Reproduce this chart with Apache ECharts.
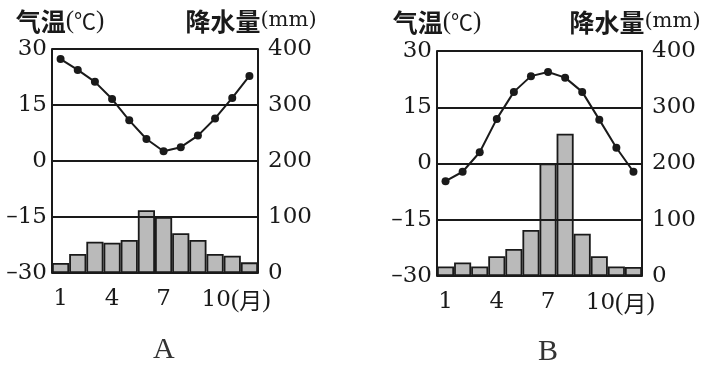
<!DOCTYPE html>
<html><head><meta charset="utf-8">
<script src="https://cdn.jsdelivr.net/npm/echarts@6/dist/echarts.min.js"></script>
<style>html,body{margin:0;padding:0;background:#fff}#c{width:715px;height:368px}</style>
</head><body><div id="c"></div>
<script>
const months = ['1','2','3','4','5','6','7','8','9','10','11','12'];
const tempA = [27.3, 24.4, 21.2, 16.6, 10.9, 5.9, 2.6, 3.7, 6.8, 11.4, 16.9, 22.8];
const precA = [18, 34, 56, 54, 59, 112, 100, 71, 59, 34, 31, 19];
const tempB = [-4.7, -2.2, 3.0, 11.9, 19.1, 23.3, 24.4, 22.9, 19.1, 11.7, 4.2, -2.2];
const precB = [17, 24, 17, 35, 48, 82, 200, 253, 75, 35, 17, 16];
const tempTicks = {min: -30, max: 30, interval: 15};
const precTicks = {min: 0, max: 400, interval: 100};
const panelNames = ['A', 'B'];

const serif = 'DejaVu Serif';
const serif2 = 'Liberation Serif';
const cjk = 'Noto Sans CJK SC';
const ink = '#1a1a1a';

const grids = [
  {left: 52, top: 49, width: 206, height: 224},
  {left: 437, top: 51, width: 205, height: 225}
];

function xAxisFor(i) {
  return {
    type: 'category', gridIndex: i, data: months, boundaryGap: true,
    axisLine: {show: true, lineStyle: {color: ink, width: 2}},
    axisTick: {show: false},
    axisLabel: {
      interval: 2, margin: 15, color: ink, fontFamily: serif, fontSize: 23,
      formatter: v => v === '10' ? '{p|}{a|10}{b|(}{c|月}{b|)}' : v,
      rich: {
        p: {width: 42, fontSize: 23},
        a: {fontFamily: serif, fontSize: 23, color: ink},
        b: {fontFamily: serif2, fontSize: 25, color: ink},
        c: {fontFamily: cjk, fontSize: 23, color: ink}
      }
    }
  };
}
function leftAxis(i, padL) {
  return {
    type: 'value', gridIndex: i, position: 'left', z: 5,
    min: tempTicks.min, max: tempTicks.max, interval: tempTicks.interval,
    name: '{c|气温}{p|(}{s|℃}{p|)}', nameLocation: 'end', nameGap: i === 0 ? 15 : 16,
    nameTextStyle: {padding: [0, 0, 0, padL], rich: {
      c: {fontFamily: cjk, fontSize: 25, fontWeight: 'bold', color: ink, lineHeight: 26},
      p: {fontFamily: serif2, fontSize: 25, color: ink, lineHeight: 26},
      s: {fontFamily: cjk, fontSize: 22, color: ink, lineHeight: 26}
    }},
    axisLine: {show: true, lineStyle: {color: ink, width: 2}},
    axisTick: {show: false},
    splitLine: {show: true, lineStyle: {color: ink, width: 1.8}},
    axisLabel: {margin: 5, color: ink, fontFamily: serif, fontSize: 23, padding: [8, 0, 0, 0],
      formatter: v => v < 0 ? '\u2013' + Math.abs(v) : String(v)}
  };
}
function rightAxis(i, padR) {
  return {
    type: 'value', gridIndex: i, position: 'right', z: 5,
    min: precTicks.min, max: precTicks.max, interval: precTicks.interval,
    name: '{c|降水量}{s|(mm)}', nameLocation: 'end', nameGap: i === 0 ? 15 : 16,
    nameTextStyle: {padding: [0, padR, 0, 0], rich: {
      c: {fontFamily: cjk, fontSize: 25, fontWeight: 'bold', color: ink, lineHeight: 26},
      s: {fontFamily: serif, fontSize: 21, color: ink, lineHeight: 26}
    }},
    axisLine: {show: true, lineStyle: {color: ink, width: 2}},
    axisTick: {show: false},
    splitLine: {show: false},
    axisLabel: {margin: 10, color: ink, fontFamily: serif, fontSize: 23, padding: [8, 0, 0, 0]}
  };
}
function barSeries(i, data) {
  return {
    type: 'bar', xAxisIndex: i, yAxisIndex: i * 2 + 1, data: data,
    barCategoryGap: '0%', barWidth: '100%', z: 2,
    itemStyle: {color: '#bababa', borderColor: ink, borderWidth: 1.8}
  };
}
function lineSeries(i, data) {
  return {
    type: 'line', xAxisIndex: i, yAxisIndex: i * 2, data: data, z: 6,
    symbol: 'circle', symbolSize: 8, smooth: false,
    lineStyle: {color: ink, width: 2},
    itemStyle: {color: ink}
  };
}

const chart = echarts.init(document.getElementById('c'), null, {renderer: 'canvas'});
chart.setOption({
  animation: false,
  backgroundColor: '#fff',
  title: [
    {text: panelNames[0], left: 148, top: 330, textStyle: {fontFamily: serif2, fontSize: 30, fontWeight: 'normal', color: '#333'}},
    {text: panelNames[1], left: 533, top: 332, textStyle: {fontFamily: serif2, fontSize: 30, fontWeight: 'normal', color: '#333'}}
  ],
  grid: grids,
  xAxis: [xAxisFor(0), xAxisFor(1)],
  yAxis: [leftAxis(0, 16), rightAxis(0, 14), leftAxis(1, 0), rightAxis(1, 14)],
  series: [barSeries(0, precA), lineSeries(0, tempA), barSeries(1, precB), lineSeries(1, tempB)]
});
</script></body></html>
